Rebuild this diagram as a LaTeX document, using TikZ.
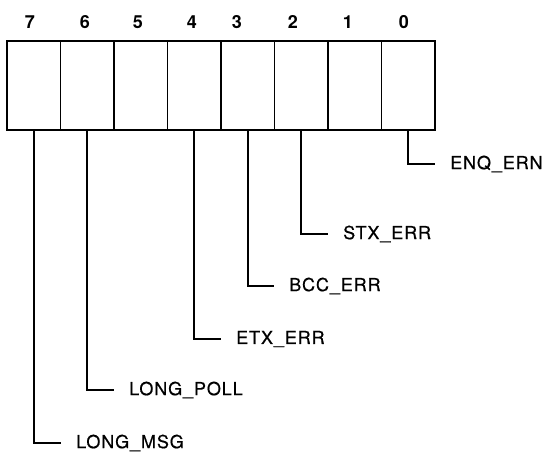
\documentclass[tikz,border=0pt]{standalone}
\usepackage{fontspec}
\setmainfont{TeX Gyre Heros}
\newfontfamily\flagfont[LetterSpace=5,FakeBold=0.6]{TeX Gyre Heros}
\begin{document}
\begin{tikzpicture}[x=1pt,y=-1pt,
  cell/.style={draw,line width=1.8pt,minimum width=53.5pt,minimum height=89pt,inner sep=0pt,outer sep=0pt},
  bitnum/.style={font=\fontsize{18}{18}\selectfont\bfseries,inner sep=0pt},
  flag/.style={font=\fontsize{18}{18}\selectfont\flagfont,anchor=west,inner sep=0pt},
  wire/.style={line width=1.8pt}]
\useasboundingbox (0,0) rectangle (544,451);
\foreach \b [evaluate=\b as \cx using 7+53.5*(7-\b)+26.75] in {7,...,0}
  \node[cell] (c\b) at (\cx,85.5) {};
\foreach \b/\x in {7/30,6/85,5/138,4/192,3/237,2/293,1/348,0/404}
  \node[bitnum] (n\b) at (\x,22) {\b};
\node[flag] (f7) at (76,443) {LONG\_MSG};
\node[flag] (f6) at (129,390) {LONG\_POLL};
\node[flag] (f4) at (236,339) {ETX\_ERR};
\node[flag] (f3) at (289,286) {BCC\_ERR};
\node[flag] (f2) at (343,234) {STX\_ERR};
\node[flag] (f0) at (450,164) {ENQ\_ERN};
\foreach \b in {7,6,4,3,2,0}
  \draw[wire] (c\b.south) |- ([xshift=-15pt]f\b.west);
\end{tikzpicture}
\end{document}
